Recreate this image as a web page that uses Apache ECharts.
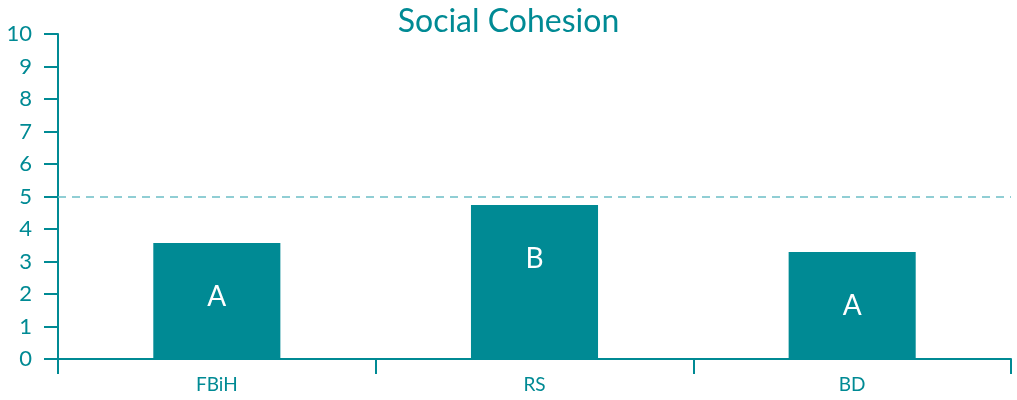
<!DOCTYPE html>
<html><head><meta charset="utf-8">
<script src="https://cdn.jsdelivr.net/npm/echarts@6/dist/echarts.min.js"></script>
<style>html,body{margin:0;padding:0;background:#fff}#c{width:1017px;height:400px}</style>
</head><body><div id="c"></div>
<script>
const categories = ['FBiH', 'RS', 'BD'];
const values = [3.57, 4.74, 3.29];
const groupLabels = ['A', 'B', 'A'];
const referenceValue = 5;
const teal = '#008A94';
const font = 'Lato';
const chart = echarts.init(document.getElementById('c'));
chart.setOption({
  animation: false,
  title: { text: 'Social Cohesion', left: 'center', top: 1,
    textStyle: { color: teal, fontFamily: font, fontSize: 32, fontWeight: 'normal' } },
  grid: { left: 58, right: 6, top: 34, bottom: 41 },
  xAxis: { type: 'category', data: categories,
    axisLine: { show: true, lineStyle: { color: teal, width: 2 } },
    axisTick: { show: true, alignWithLabel: false, interval: 0, length: 15, lineStyle: { color: teal, width: 2 } },
    axisLabel: { color: teal, fontFamily: font, fontSize: 19, margin: 16 } },
  yAxis: { type: 'value', min: 0, max: 10, interval: 1,
    axisLine: { show: true, lineStyle: { color: teal, width: 2 } },
    axisTick: { show: true, length: 14, lineStyle: { color: teal, width: 2 } },
    splitLine: { show: false },
    axisLabel: { color: teal, fontFamily: font, fontSize: 22, margin: 26 } },
  series: [{ type: 'bar', data: values, barWidth: '40%',
    itemStyle: { color: teal },
    label: { show: true, position: 'insideTop', distance: 40, color: '#fff',
      fontFamily: font, fontSize: 28, formatter: p => groupLabels[p.dataIndex] },
    markLine: { silent: true, symbol: 'none', label: { show: false },
      lineStyle: { color: '#6CBEC6', type: [8, 6], width: 1.5 },
      data: [{ yAxis: referenceValue }] } }]
});
</script></body></html>
